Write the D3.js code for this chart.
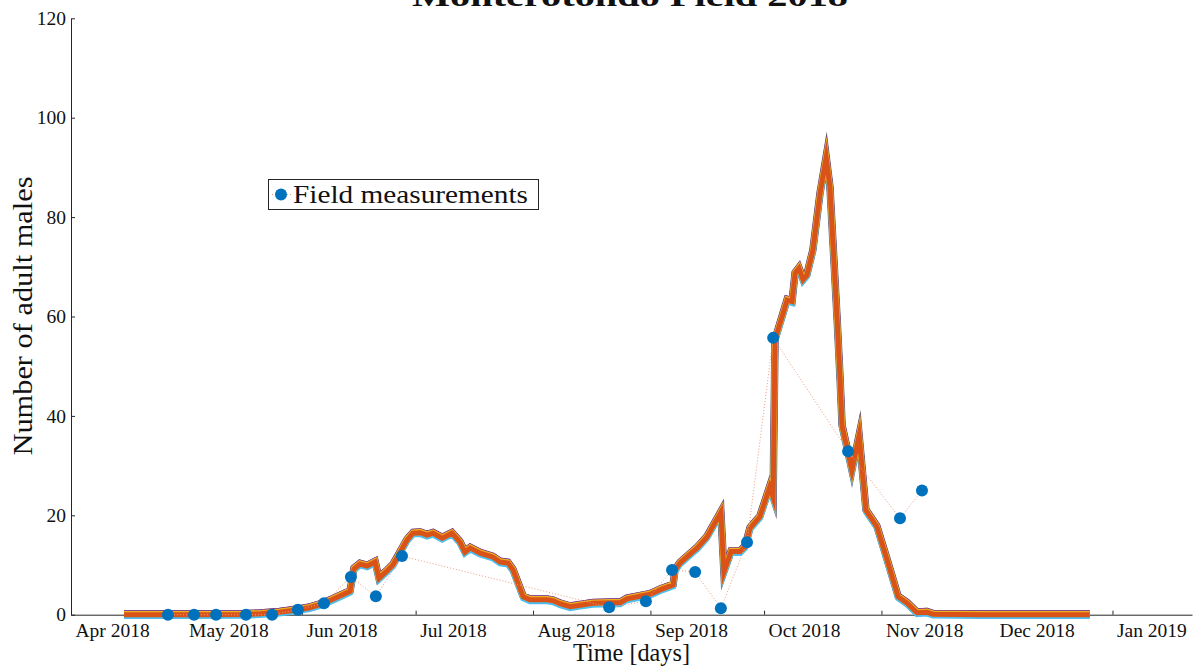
<!DOCTYPE html>
<html><head><meta charset="utf-8">
<script src="https://cdn.jsdelivr.net/npm/d3@7"></script>
<style>
html,body{margin:0;padding:0;background:#fff;}
svg{display:block;}
text{font-family:"Liberation Serif","DejaVu Serif",serif;fill:#111;}
</style></head>
<body>
<svg id="chart" width="1194" height="667"></svg>
<script>
// ---- data (days since 1 Apr 2018) ----
const modelDays = [14, 30, 45, 50, 55, 60, 63, 66.5, 69.7, 73.7, 74.7, 76.3, 78.2, 80.3, 81.3, 83.4, 85, 88.7, 90.3, 92.2, 94, 95.6, 98, 100.6, 102.7, 104, 105.4, 108, 111.4, 113.3, 115.4, 116.7, 119.4, 121.2, 125.7, 127.3, 129.1, 131.8, 134.4, 137.8, 142.3, 145, 146.8, 150.2, 152.9, 155.5, 159, 159.5, 160.8, 164.2, 165.3, 167.9, 171.6, 172.4, 174.3, 176.7, 178, 179.3, 181.9, 184.5, 185.4, 185.9, 189.1, 190.4, 191.2, 192.2, 193.3, 194.3, 195.9, 197.8, 199.4, 200.4, 202.3, 203.1, 203.6, 205.2, 206.2, 208.1, 209.9, 212.8, 215.5, 218.4, 220.8, 223.4, 226, 227.6, 240, 269];
const modelValues = [0, 0, 0.05, 0.2, 0.5, 1.0, 1.4, 2.2, 3.3, 4.7, 9.2, 10.2, 9.8, 10.6, 7.3, 8.8, 10, 15, 16.4, 16.5, 16, 16.4, 15.4, 16.4, 14.6, 12.6, 13.4, 12.4, 11.6, 10.6, 10.4, 9, 3.6, 3, 3, 2.8, 2.2, 1.6, 1.9, 2.3, 2.4, 2.4, 3.2, 3.7, 4.1, 5, 6, 9, 10.4, 12.7, 13.4, 15.6, 20.6, 8.6, 12.7, 12.7, 13.7, 17.4, 19.7, 25.7, 23.6, 55.3, 63.3, 63, 68.7, 69.7, 67.4, 68.3, 73.3, 84.8, 92, 86, 59.3, 47, 38, 32.5, 29, 36, 21, 17.7, 11, 3.6, 2.3, 0.4, 0.5, 0.1, 0, 0];
const fieldDays = [25.6, 32.5, 38.3, 46.2, 53.1, 59.9, 66.8, 73.9, 80.5, 87.4, 142.1, 151.8, 158.7, 164.8, 171.6, 178.5, 185.4, 205.2, 218.9, 224.7];
const fieldValues = [0, 0, 0, 0, 0, 1.0, 2.3, 7.6, 3.7, 11.8, 1.5, 2.7, 9.0, 8.6, 1.3, 14.6, 55.7, 32.9, 19.4, 25.0];
const yTicks = [0, 20, 40, 60, 80, 100, 120];
const titleText = "Monterotondo Field 2018";
const xLabel = "Time [days]";
const yLabel = "Number of adult males";
const legendLabel = "Field measurements";

const start = new Date(2018, 3, 1);
const toDate = d => new Date(start.getTime() + d * 864e5);

const svg = d3.select("#chart");
const x = d3.scaleTime().domain([start, new Date(2019, 0, 22)]).range([71, 1192]);
const y = d3.scaleLinear().domain([0, 120]).range([614.7, 18.3]);

const model = modelDays.map((d, i) => ({date: toDate(d), v: modelValues[i]}));
const field = fieldDays.map((d, i) => ({date: toDate(d), v: fieldValues[i]}));

// title (partly cut off at top, as in the original)
svg.append("text").attr("x", 630).attr("y", 6).attr("text-anchor", "middle")
  .attr("font-size", 30).attr("font-weight", "bold")
  .attr("textLength", 436).attr("lengthAdjust", "spacingAndGlyphs").text(titleText);

// axes
const axisColor = "#262626";
const xAxis = d3.axisBottom(x).ticks(d3.timeMonth.every(1)).tickSizeInner(-4).tickSizeOuter(0).tickFormat(d3.timeFormat("%b %Y"));
const gx = svg.append("g").attr("transform", "translate(0,614.7)").call(xAxis);
gx.select(".domain").attr("stroke", axisColor);
gx.selectAll(".tick line").attr("stroke", axisColor);
gx.selectAll(".tick text").attr("text-anchor", "start").attr("dx", 4).attr("y", 6).attr("dy", "0.85em")
  .attr("font-size", 19.5).attr("font-family", "Liberation Serif, serif").attr("fill", "#111");

const yAxis = d3.axisLeft(y).tickValues(yTicks).tickSizeInner(-4).tickSizeOuter(0).tickPadding(6);
const gy = svg.append("g").attr("transform", "translate(71,0)").call(yAxis);
gy.select(".domain").attr("stroke", axisColor);
gy.selectAll(".tick line").attr("stroke", axisColor);
gy.selectAll(".tick text").attr("font-size", 19.5).attr("font-family", "Liberation Serif, serif").attr("fill", "#111").attr("x", -5);

// axis labels
svg.append("text").attr("x", 631.5).attr("y", 661).attr("text-anchor", "middle")
  .attr("font-size", 26).attr("textLength", 117).attr("lengthAdjust", "spacingAndGlyphs").text(xLabel);
svg.append("text").attr("transform", "translate(32,316) rotate(-90)").attr("text-anchor", "middle")
  .attr("font-size", 27).attr("textLength", 279).attr("lengthAdjust", "spacingAndGlyphs").text(yLabel);

// model ensemble lines
const line = d3.line().x(d => x(d.date)).y(d => y(d.v));
const layers = [
  {c: "#6b6b6b", w: 7.5, dy: -0.6},
  {c: "#7E2F8E", w: 6.5, dy: -1.2},
  {c: "#4DBEEE", w: 6, dy: 1.4},
  {c: "#EDB120", w: 6, dy: -0.8},
  {c: "#D95319", w: 5, dy: 0}
];
layers.forEach(l => {
  svg.append("path").datum(model).attr("d", line).attr("fill", "none")
    .attr("stroke", l.c).attr("stroke-width", l.w).attr("stroke-linejoin", "miter").attr("stroke-miterlimit", 10)
    .attr("transform", `translate(0,${l.dy})`);
});

// field measurements dotted connection
svg.append("path").datum(field).attr("d", line).attr("fill", "none")
  .attr("stroke", "#ee9a80").attr("stroke-width", 1).attr("stroke-dasharray", "1,2");
svg.selectAll("circle.field").data(field).enter().append("circle").attr("class", "field")
  .attr("cx", d => x(d.date)).attr("cy", d => y(d.v)).attr("r", 6).attr("fill", "#0072BD");

// legend
const lg = svg.append("g");
lg.append("rect").attr("x", 268.5).attr("y", 179.5).attr("width", 270).attr("height", 30)
  .attr("fill", "#fff").attr("stroke", "#262626").attr("stroke-width", 1);
lg.append("line").attr("x1", 272).attr("x2", 291).attr("y1", 194.5).attr("y2", 194.5)
  .attr("stroke", "#ee9a80").attr("stroke-width", 1).attr("stroke-dasharray", "1,2");
lg.append("circle").attr("cx", 281).attr("cy", 194.5).attr("r", 6).attr("fill", "#0072BD");
lg.append("text").attr("x", 293).attr("y", 203).attr("font-size", 26)
  .attr("textLength", 235).attr("lengthAdjust", "spacingAndGlyphs").text(legendLabel);
</script>
</body></html>
